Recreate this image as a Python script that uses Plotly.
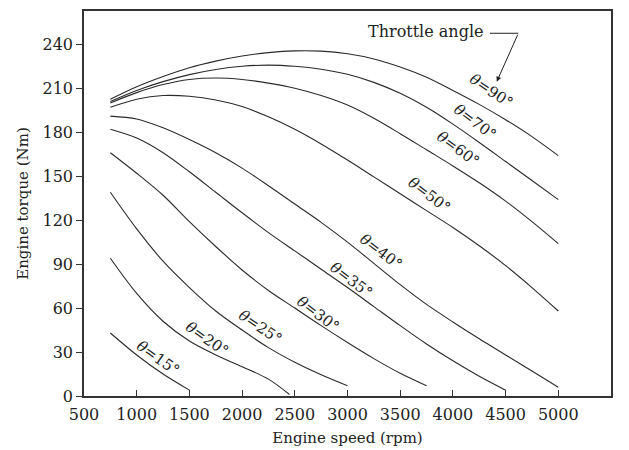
import plotly.graph_objects as go

# ---- data ----
rpm_full = [750, 1000, 1250, 1500, 1750, 2000, 2250, 2500, 2750, 3000,
            3250, 3500, 3750, 4000, 4250, 4500, 4750, 5000]

t90 = [202.5, 211, 218, 224, 228.5, 232, 234.3, 235.5, 235.3, 233.5, 230, 224.5, 217.5, 208.5, 199, 188.5, 177, 164]
t70 = [201, 208.5, 214.5, 219.3, 222.8, 225, 225.8, 225, 223, 219.5, 214, 206.5, 197, 185.5, 173, 160, 147, 134]
t60 = [200, 207, 212.5, 216, 217, 216, 213.5, 210, 205, 198.5, 189.5, 179, 168, 157, 145.5, 133, 119, 104]
t50 = [197, 202.5, 205, 204.5, 202, 197.5, 190.5, 182, 172, 161, 149.5, 138, 126.5, 115, 102.5, 89, 74, 58]
t40 = [191, 189, 183, 175, 166, 155.5, 143.5, 131, 118.5, 105, 90.5, 76, 62.5, 50.5, 39, 28, 17, 6]

rpm35 = [750, 1000, 1250, 1500, 1750, 2000, 2250, 2500, 2750, 3000, 3250, 3500, 3750, 4000, 4250, 4500]
t35 = [182, 176, 166, 153, 139, 125, 111.5, 99, 86.5, 74, 61, 48, 35.5, 24, 13.5, 4]

rpm30 = [750, 1000, 1250, 1500, 1750, 2000, 2250, 2500, 2750, 3000, 3250, 3500, 3750]
t30 = [166, 152, 137, 119, 102, 86, 72, 60, 48, 36.5, 25.5, 15.5, 7]

rpm25 = [750, 1000, 1250, 1500, 1750, 2000, 2250, 2500, 2750, 3000]
t25 = [139, 114, 92, 74, 58, 45, 33, 23, 14.5, 7]

rpm20 = [750, 1000, 1250, 1500, 1750, 2000, 2250, 2450]
t20 = [94, 70, 51, 37.5, 28, 20, 11.5, 1]

rpm15 = [750, 1000, 1250, 1500]
t15 = [43, 28, 15, 4]

series = [
    (rpm_full, t90), (rpm_full, t70), (rpm_full, t60), (rpm_full, t50),
    (rpm_full, t40), (rpm35, t35), (rpm30, t30), (rpm25, t25),
    (rpm20, t20), (rpm15, t15),
]

# curve labels: text, rpm, torque, angle
label_text = ["90", "70", "60", "50", "40", "35", "30", "25", "20", "15"]
label_rpm = [4364, 4212, 4050, 3775, 3320, 3035, 2721, 2171, 1668, 1202]
label_tq = [208, 187, 168.5, 137, 98.5, 79, 56, 47, 39, 26]
label_ang = [34, 37, 36, 37, 37, 37, 37, 34, 35, 35]

x_ticks = [500, 1000, 1500, 2000, 2500, 3000, 3500, 4000, 4500, 5000, 5500]
y_ticks = [0, 30, 60, 90, 120, 150, 180, 210, 240]

FONT = "DejaVu Serif"
INK = "#222222"

fig = go.Figure()
for xs, ys in series:
    fig.add_trace(go.Scatter(
        x=xs, y=ys, mode="lines",
        line=dict(color="#2a2a2a", width=1.1, shape="spline", smoothing=0.9),
        showlegend=False, hoverinfo="skip",
    ))

annotations = []
for txt, xr, yt, ang in zip(label_text, label_rpm, label_tq, label_ang):
    annotations.append(dict(
        x=xr, y=yt, xref="x", yref="y",
        text=f"<i>θ</i>={txt}°", showarrow=False, textangle=ang,
        font=dict(family=FONT, size=15, color=INK),
    ))

# "Throttle angle" callout
annotations.append(dict(
    x=3737, y=249, xref="x", yref="y", text="Throttle angle", showarrow=False,
    font=dict(family=FONT, size=16, color=INK),
))
annotations.append(dict(
    x=4416, y=214.5, xref="x", yref="y", ax=4621, ay=247.5,
    axref="x", ayref="y", text="", showarrow=True,
    arrowhead=2, arrowsize=1, arrowwidth=1, arrowcolor=INK,
))
fig.add_shape(type="line", xref="x", yref="y", x0=4352, y0=247.5, x1=4621, y1=247.5,
              line=dict(color=INK, width=1))

fig.update_layout(
    width=629, height=450,
    margin=dict(l=84, r=18, t=11, b=54),
    paper_bgcolor="white", plot_bgcolor="white",
    font=dict(family=FONT, size=15, color=INK),
    annotations=annotations,
    xaxis=dict(
        range=[500, 5500], tickvals=x_ticks, automargin=False,
        ticks="inside", ticklen=6, tickwidth=1, tickcolor="#333",
        showline=True, linecolor="#333", linewidth=1.5, mirror=True,
        showgrid=False, zeroline=False, ticklabelstandoff=3,
        tickfont=dict(family=FONT, size=16, color=INK),
        title=dict(text="Engine speed (rpm)", font=dict(family=FONT, size=15, color=INK), standoff=10),
    ),
    yaxis=dict(
        range=[0, 262.7], tickvals=y_ticks, automargin=False,
        ticks="outside", ticklen=6, tickwidth=1, tickcolor="#333",
        showline=True, linecolor="#333", linewidth=1.5, mirror=True,
        showgrid=False, zeroline=False,
        tickfont=dict(family=FONT, size=16, color=INK),
        title=dict(text="Engine torque (Nm)", font=dict(family=FONT, size=15, color=INK), standoff=10),
    ),
)

fig.write_html("out.html")
